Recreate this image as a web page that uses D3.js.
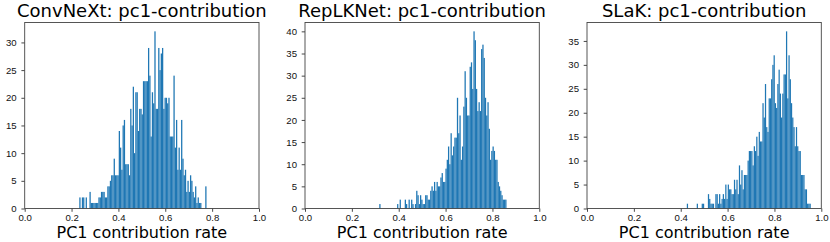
<!DOCTYPE html>
<html>
<head>
<meta charset="utf-8">
<script src="https://cdn.jsdelivr.net/npm/d3@7"></script>
<style>
    body { margin: 0; background: #fff; }
    svg { display: block; font-family: 'DejaVu Sans', sans-serif; }
    .tick text { fill: #111; font-size: 9.6px; }
    .tick line { stroke: #333; stroke-width: 0.9; }
</style>
</head>
<body>
<div id="chart"></div>
<script>
// Texts and ticks
const titles = ['ConvNeXt: pc1-contribution', 'RepLKNet: pc1-contribution', 'SLaK: pc1-contribution'];
const xLabel = 'PC1 contribution rate';
const xTicks = [0, 0.2, 0.4, 0.6, 0.8, 1.0];
const yTicksConvNeXt = [0, 5, 10, 15, 20, 25, 30];
const yTicksRepLKNet = [0, 5, 10, 15, 20, 25, 30, 35, 40];
const yTicksSLaK = [0, 5, 10, 15, 20, 25, 30, 35];

// Data range of each histogram (first bin edge, last bin edge), 100 bins each
const rangeConvNeXt = [0.233, 0.776];
const rangeRepLKNet = [0.317, 0.860];
const rangeSLaK = [0.426, 0.955];

// Bin counts
const countsConvNeXt = [
    2, 0, 2, 2, 0, 2, 0, 0, 3, 1,
    1, 1, 1, 1, 1, 2, 2, 3, 3, 3,
    2, 2, 4, 4, 5, 6, 6, 9, 6, 6,
    6, 14, 11, 7, 15, 16, 8, 8, 8, 6,
    18, 15, 22, 10, 21, 21, 14, 18, 18, 17,
    23, 23, 23, 23, 29, 24, 13, 21, 19, 32,
    18, 18, 29, 25, 28, 29, 18, 20, 20, 19,
    20, 13, 13, 13, 24, 11, 16, 7, 11, 7,
    16, 9, 6, 7, 3, 5, 3, 6, 5, 3,
    2, 4, 1, 2, 1, 1, 0, 0, 0, 4
];
const countsRepLKNet = [
    1, 0, 0, 0, 0, 0, 0, 0, 0, 0,
    0, 0, 0, 0, 1, 0, 2, 0, 0, 0,
    2, 1, 0, 2, 0, 2, 1, 0, 1, 4,
    3, 1, 3, 2, 1, 1, 3, 3, 2, 2,
    4, 5, 4, 6, 4, 6, 5, 5, 7, 8,
    6, 6, 9, 11, 14, 10, 17, 12, 14, 16,
    16, 25, 17, 21, 11, 14, 23, 31, 25, 21,
    21, 32, 33, 27, 40, 38, 27, 22, 24, 22,
    36, 37, 34, 25, 21, 24, 18, 11, 13, 14,
    13, 11, 11, 6, 5, 4, 3, 2, 2, 2
];
const countsSLaK = [
    1, 0, 0, 0, 0, 0, 0, 0, 1, 0,
    0, 0, 1, 1, 0, 0, 0, 3, 2, 1,
    1, 1, 0, 3, 3, 1, 3, 1, 2, 3,
    2, 5, 2, 5, 4, 4, 3, 3, 6, 4,
    6, 3, 9, 5, 8, 4, 7, 7, 7, 10,
    12, 12, 12, 9, 13, 12, 15, 11, 16, 14,
    14, 22, 19, 26, 17, 16, 23, 23, 27, 30,
    32, 22, 21, 26, 29, 24, 19, 24, 28, 28,
    37, 23, 32, 27, 22, 19, 17, 13, 17, 13,
    12, 12, 7, 7, 7, 4, 4, 1, 1, 1
];

const panels = [
    { title: titles[0], counts: countsConvNeXt, range: rangeConvNeXt, yTicks: yTicksConvNeXt },
    { title: titles[1], counts: countsRepLKNet, range: rangeRepLKNet, yTicks: yTicksRepLKNet },
    { title: titles[2], counts: countsSLaK, range: rangeSLaK, yTicks: yTicksSLaK }
];

const chart = {
    totalWidth: 830,
    totalHeight: 242,
    top: 22.5,
    bottom: 208.5,
    lefts: [24.7, 305, 587],
    width: 234.3
};

const svg = d3.select('#chart')
    .append('svg')
    .attr('width', chart.totalWidth)
    .attr('height', chart.totalHeight);

panels.forEach((p, k) => {
    const left = chart.lefts[k];
    const height = chart.bottom - chart.top;

    const xScale = d3.scaleLinear().domain([0, 1]).range([0, chart.width]);
    // matplotlib autoscale: 5% headroom above the tallest bar
    const yScale = d3.scaleLinear()
        .domain([0, d3.max(p.counts) * 1.05])
        .range([height, 0]);

    const g = svg.append('g')
        .attr('transform', `translate(${left}, ${chart.top})`);

    // bins
    const n = p.counts.length;
    const step = (p.range[1] - p.range[0]) / n;
    const bins = p.counts.map((c, i) => ({
        x0: p.range[0] + i * step,
        x1: p.range[0] + (i + 1) * step,
        count: c
    }));

    g.append('g')
        .classed('bars', true)
        .selectAll('rect')
        .data(bins.filter(d => d.count > 0))
        .enter()
        .append('rect')
        .attr('x', d => xScale(d.x0))
        .attr('width', d => xScale(d.x1) - xScale(d.x0))
        .attr('y', d => yScale(d.count))
        .attr('height', d => yScale(0) - yScale(d.count))
        .attr('fill', '#1f77b4');

    // axes
    const xAxis = d3.axisBottom(xScale)
        .tickValues(xTicks)
        .tickFormat(d3.format('.1f'))
        .tickSize(3.3)
        .tickPadding(2.8);
    g.append('g')
        .attr('transform', `translate(0, ${height})`)
        .call(xAxis)
        .call(a => a.select('.domain').remove());

    const yAxis = d3.axisLeft(yScale)
        .tickValues(p.yTicks)
        .tickSize(3.3)
        .tickPadding(4.7);
    g.append('g')
        .call(yAxis)
        .call(a => a.select('.domain').remove());

    // frame
    g.append('rect')
        .attr('width', chart.width)
        .attr('height', height)
        .attr('fill', 'none')
        .attr('stroke', '#444')
        .attr('stroke-width', 0.9);

    // texts
    svg.append('text')
        .attr('x', left + chart.width / 2)
        .attr('y', 16.7)
        .attr('text-anchor', 'middle')
        .style('font-size', '18px')
        .attr('fill', '#000')
        .text(p.title);

    svg.append('text')
        .attr('x', left + chart.width / 2)
        .attr('y', 238.2)
        .attr('text-anchor', 'middle')
        .style('font-size', '16px')
        .attr('fill', '#000')
        .text(xLabel);
});
</script>
</body>
</html>
